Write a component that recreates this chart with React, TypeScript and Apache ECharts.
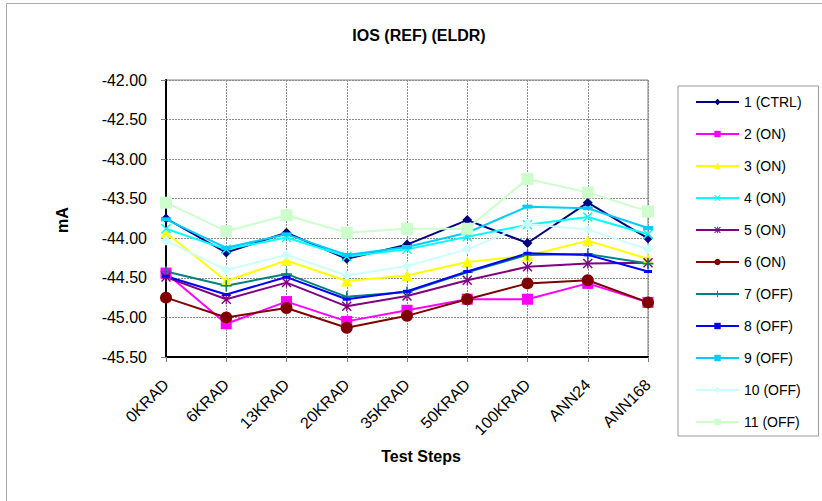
import React, { useEffect, useRef } from "react";
import * as echarts from "echarts";

const categories = ["0KRAD", "6KRAD", "13KRAD", "20KRAD", "35KRAD", "50KRAD", "100KRAD", "ANN24", "ANN168"];

const seriesNames = ["1 (CTRL)", "2 (ON)", "3 (ON)", "4 (ON)", "5 (ON)", "6 (ON)", "7 (OFF)", "8 (OFF)", "9 (OFF)", "10 (OFF)", "11 (OFF)"];

const s1 = [-43.75, -44.18, -43.93, -44.26, -44.08, -43.77, -44.06, -43.55, -44.0];
const s2 = [-44.44, -45.08, -44.8, -45.05, -44.91, -44.77, -44.77, -44.57, -44.81];
const s3 = [-43.93, -44.54, -44.28, -44.54, -44.47, -44.3, -44.22, -44.03, -44.26];
const s4 = [-43.88, -44.14, -43.99, -44.23, -44.14, -43.98, -43.83, -43.73, -43.95];
const s5 = [-44.49, -44.77, -44.56, -44.86, -44.73, -44.53, -44.36, -44.32, -44.31];
const s6 = [-44.75, -45.0, -44.88, -45.13, -44.98, -44.77, -44.57, -44.53, -44.81];
const s7 = [-44.42, -44.6, -44.45, -44.74, -44.68, -44.43, -44.21, -44.2, -44.32];
const s8 = [-44.48, -44.71, -44.49, -44.77, -44.67, -44.42, -44.19, -44.21, -44.42];
const s9 = [-43.76, -44.12, -43.95, -44.21, -44.11, -43.93, -43.6, -43.62, -43.87];
const s10 = [-44.03, -44.4, -44.21, -44.47, -44.35, -44.14, -43.82, -43.89, -44.14];
const s11 = [-43.55, -43.91, -43.71, -43.93, -43.88, -43.88, -43.25, -43.42, -43.66];

const seriesValues = [s1, s2, s3, s4, s5, s6, s7, s8, s9, s10, s11];

const colors = ["#000080", "#FF00FF", "#FFFF00", "#00FFFF", "#800080", "#800000", "#008080", "#0000FF", "#00CCFF", "#CCFFFF", "#CCFFCC"];

const X_PATH = "path://M0,1L1,0L5,4L9,0L10,1L6,5L10,9L9,10L5,6L1,10L0,9L4,5Z";
const STAR_PATH = "path://M0,1L1,0L5,4L9,0L10,1L6,5L10,9L9,10L5,6L1,10L0,9L4,5Z M4.4,0H5.6V10H4.4Z";
const PLUS_PATH = "path://M4.3,0H5.7V4.3H10V5.7H5.7V10H4.3V5.7H0V4.3H4.3Z";

const symbols: any[] = ["diamond", "rect", "triangle", X_PATH, STAR_PATH, "circle", PLUS_PATH, "rect", "rect", "diamond", "rect"];
const symbolSizes: any[] = [10, 11, 11, 10, 10, 12, 11, [8, 3], [10, 4], 10, 12];

const FONT = "Arial, 'Liberation Sans', Helvetica, sans-serif";

export default function App() {
  const ref = useRef<HTMLDivElement>(null);
  useEffect(() => {
    if (!ref.current) return;
    const chart = echarts.init(ref.current, undefined, { renderer: "svg" });
    const option: any = {
      animation: false,
      backgroundColor: "#ffffff",
      textStyle: { fontFamily: FONT },
      grid: {
        left: 166,
        top: 80,
        right: 174,
        bottom: 144,
        show: true,
        borderColor: "#808080",
        borderWidth: 1,
        backgroundColor: "transparent",
      },
      xAxis: {
        type: "category",
        data: categories,
        boundaryGap: false,
        axisLine: { show: true, lineStyle: { color: "#000", width: 2 } },
        axisTick: { show: true, alignWithLabel: true, length: 5, lineStyle: { color: "#808080" } },
        axisLabel: {
          rotate: 45,
          margin: 25,
          fontSize: 16,
          color: "#000",
          fontFamily: FONT,
          interval: 0,
        },
        splitLine: { show: true, lineStyle: { color: "#8c8c8c", width: 1, type: [2, 1] } },
      },
      yAxis: {
        type: "value",
        min: -45.5,
        max: -42,
        interval: 0.5,
        axisLine: { show: true, lineStyle: { color: "#000", width: 2 } },
        axisTick: { show: true, length: 5, lineStyle: { color: "#808080" } },
        axisLabel: {
          margin: 19,
          fontSize: 16,
          color: "#000",
          fontFamily: FONT,
          formatter: (v: number) => v.toFixed(2),
        },
        splitLine: { show: true, lineStyle: { color: "#8c8c8c", width: 1, type: [2, 1] } },
      },
      legend: {
        orient: "vertical",
        left: 678,
        top: 86,
        width: 138,
        padding: [9, 17, 7, 17],
        itemGap: 18,
        itemWidth: 43,
        itemHeight: 8,
        borderColor: "#999",
        borderWidth: 1,
        backgroundColor: "#fff",
        textStyle: { fontSize: 14, color: "#000", fontFamily: FONT },
        data: seriesNames,
      },
      graphic: [
        {
          type: "rect",
          silent: true,
          shape: { x: 6.5, y: 3.5, width: 830, height: 510 },
          style: { fill: "none", stroke: "#aaaaaa", lineWidth: 1 },
          z: -10,
        },
        {
          type: "text",
          x: 419,
          y: 35,
          style: {
            text: "IOS (REF) (ELDR)",
            font: "bold 16px " + FONT,
            fill: "#000",
            align: "center",
            verticalAlign: "middle",
          },
        },
        {
          type: "text",
          x: 421,
          y: 456,
          style: {
            text: "Test Steps",
            font: "bold 16px " + FONT,
            fill: "#000",
            align: "center",
            verticalAlign: "middle",
          },
        },
        {
          type: "text",
          x: 62,
          y: 220,
          rotation: Math.PI / 2,
          style: {
            text: "mA",
            font: "bold 16px " + FONT,
            fill: "#000",
            align: "center",
            verticalAlign: "middle",
          },
        },
      ],
      series: seriesValues.map((vals, i) => ({
        name: seriesNames[i],
        type: "line",
        data: vals,
        symbol: symbols[i],
        symbolSize: symbolSizes[i],
        showAllSymbol: true,
        color: colors[i],
        lineStyle: { color: colors[i], width: 2 },
        itemStyle: { color: colors[i] },
        emphasis: { disabled: true },
      })),
    };
    chart.setOption(option);
    return () => chart.dispose();
  }, []);
  return (
    <div
      ref={ref}
      style={{ position: "fixed", left: 0, top: 0, width: 822, height: 501 }}
    />
  );
}
